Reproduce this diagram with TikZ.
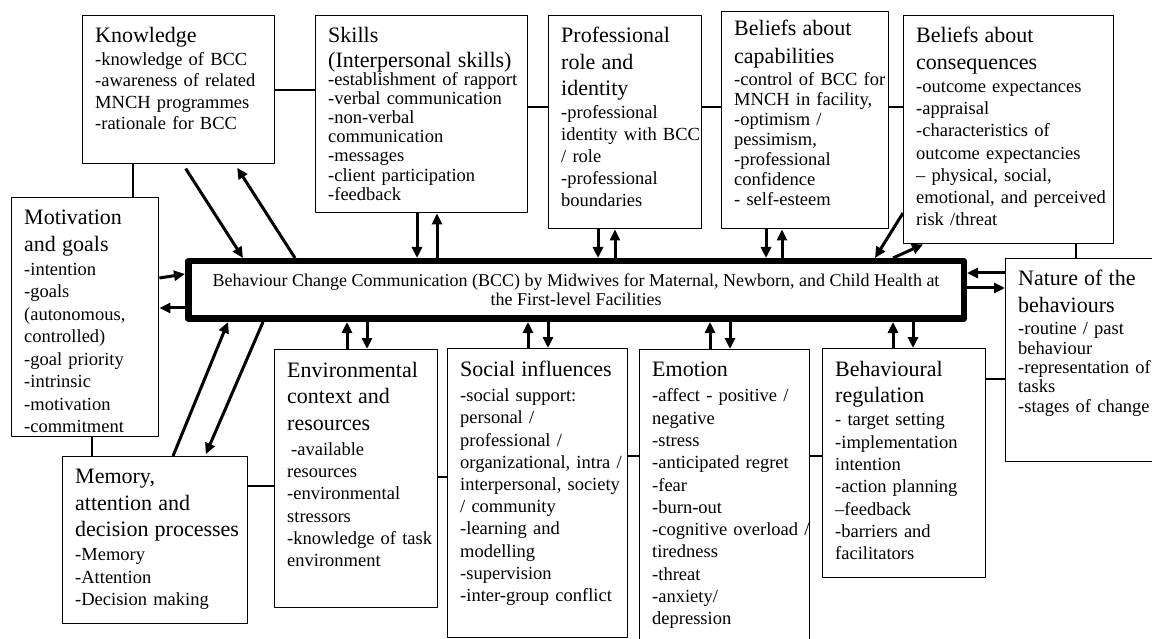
\documentclass[tikz,border=0pt]{standalone}
\usepackage{fontspec}
\setmainfont{Liberation Serif}
\usetikzlibrary{arrows.meta}
\newcommand{\hd}[2][1pt]{{\fontsize{22}{26.5}\selectfont #2\par}\vspace{#1}}
\begin{document}
\begin{tikzpicture}[x=1pt, y=-1pt, line join=round,
	box/.style={draw, line width=1.4pt, inner sep=0pt, anchor=north west},
	txt/.style={anchor=north west, inner sep=0pt, text width=240pt, align=left, font=\fontsize{18.5}{#1}\selectfont},
	txt/.default=22.2,
	arr/.style={line width=3pt, -{Triangle[length=11pt,width=10pt]}},
	lnk/.style={line width=1.3pt}]
	\clip (0,0) rectangle (1152,639);
	% boxes
	\node [box, minimum width=192, minimum height=148] (know) at (82,15) {};
	\node [box, minimum width=212, minimum height=197] (skills) at (315,15) {};
	\node [box, minimum width=153, minimum height=213] (prof) at (548,15) {};
	\node [box, minimum width=167, minimum height=217] (belcap) at (721,11) {};
	\node [box, minimum width=210, minimum height=228] (belcon) at (903,15) {};
	\node [box, minimum width=147, minimum height=239] (motiv) at (11,197) {};
	\node [box, minimum width=185, minimum height=167] (memory) at (62,456) {};
	\node [box, minimum width=163, minimum height=258] (env) at (274,349) {};
	\node [box, minimum width=180, minimum height=289] (social) at (447,348) {};
	\node [box, minimum width=170, minimum height=320] (emotion) at (639,349) {};
	\node [box, minimum width=163, minimum height=229] (behav) at (822,348) {};
	\node [box, minimum width=170, minimum height=203] (nature) at (1005,258) {};
	\node [draw, line width=6.5pt, minimum width=775.5, minimum height=57.5, align=center,
		font=\fontsize{18}{19}\selectfont] (bcc) at (576,290)
		{Behaviour Change Communication (BCC) by Midwives for Maternal, Newborn, and Child Health at\\the First-level Facilities};
	% texts
	\node [txt=21.5] (know-t) at ([shift={(13,12)}]know.north west)
		{\hd[1.5pt]{Knowledge}-knowledge of BCC\\-awareness of related\\MNCH programmes\\-rationale for BCC};
	\node [txt=19.2] (skills-t) at ([shift={(13,12)}]skills.north west)
		{\hd[-1.5pt]{Skills\\[-1.5pt](Interpersonal skills)}-establishment of rapport\\-verbal communication\\-non-verbal\\communication\\-messages\\-client participation\\-feedback};
	\node [txt=22] (prof-t) at ([shift={(13,12)}]prof.north west)
		{\hd{Professional\\role and\\identity}-professional\\identity with BCC\\/ role\\-professional\\boundaries};
	\node [txt=20] (belcap-t) at ([shift={(13,9)}]belcap.north west)
		{\hd[2pt]{Beliefs about\\[1.5pt]capabilities}-control of BCC for\\MNCH in facility,\\-optimism /\\pessimism,\\-professional\\confidence\\- self-esteem};
	\node [txt=22.3] (belcon-t) at ([shift={(13,12)}]belcon.north west)
		{\hd[0.7pt]{Beliefs about\\consequences}-outcome expectances\\-appraisal\\-characteristics of\\outcome expectancies\\-- physical, social,\\emotional, and perceived\\risk /threat};
	\node [txt=22.5] (motiv-t) at ([shift={(13,13)}]motiv.north west)
		{\hd[1.5pt]{Motivation\\and goals}-intention\\-goals\\(autonomous,\\controlled)\\-goal priority\\-intrinsic\\-motivation\\-commitment};
	\node [txt=22.3] (memory-t) at ([shift={(13,13)}]memory.north west)
		{\hd[2pt]{Memory,\\attention and\\decision processes}-Memory\\-Attention\\-Decision making};
	\node [txt] (env-t) at ([shift={(13,13)}]env.north west)
		{\hd[2.8pt]{Environmental\\context and\\resources}\hspace{4pt}-available\\resources\\-environmental\\stressors\\-knowledge of task\\environment};
	\node [txt] (social-t) at ([shift={(13,13)}]social.north west)
		{\hd[2.8pt]{Social influences}-social support:\\personal /\\professional /\\organizational, intra /\\interpersonal, society\\/ community\\-learning and\\modelling\\-supervision\\-inter-group conflict};
	\node [txt=22.3] (emotion-t) at ([shift={(13,13)}]emotion.north west)
		{\hd[2.8pt]{Emotion}-affect - positive /\\negative\\-stress\\-anticipated regret\\-fear\\-burn-out\\-cognitive overload /\\tiredness\\-threat\\-anxiety/\\depression};
	\node [txt=22.3] (behav-t) at ([shift={(13,13)}]behav.north west)
		{\hd[0.7pt]{Behavioural\\regulation}- target setting\\-implementation\\intention\\-action planning\\--feedback\\-barriers and\\facilitators};
	\node [txt=19.3] (nature-t) at ([shift={(13,12)}]nature.north west)
		{\hd[3.5pt]{Nature of the\\behaviours}-routine / past\\behaviour\\-representation of\\tasks\\-stages of change};
	% links
	\draw [lnk] (know.east |- 0,90) -- (skills.west |- 0,90);
	\draw [lnk] (skills.east |- 0,107) -- (prof.west |- 0,107);
	\draw [lnk] (prof.east |- 0,107) -- (belcap.west |- 0,107);
	\draw [lnk] (belcap.east |- 0,107) -- (belcon.west |- 0,107);
	\draw [lnk] (belcon.south -| 1076,0) -- (nature.north -| 1076,0);
	\draw [lnk] (know.south -| 133,0) -- (motiv.north -| 133,0);
	\draw [lnk] (motiv.south -| 92,0) -- (memory.north -| 92,0);
	\draw [lnk] (memory.east |- 0,486) -- (env.west |- 0,486);
	\draw [lnk] (env.east |- 0,477) -- (social.west |- 0,477);
	\draw [lnk] (social.east |- 0,456) -- (emotion.west |- 0,456);
	\draw [lnk] (emotion.east |- 0,456) -- (behav.west |- 0,456);
	\draw [lnk] (behav.east |- 0,379) -- (nature.west |- 0,379);
	% arrows
	\draw [arr, shorten <=5pt] (know.south -| 183,0) -- (bcc.north -| 243,0);
	\draw [arr, shorten >=4pt] (bcc.north -| 295,0) -- (know.south -| 235,0);
	\draw [arr] (skills.south -| 417,0) -- (bcc.north -| 417,0);
	\draw [arr] (bcc.north -| 437,0) -- (skills.south -| 437,0);
	\draw [arr] (prof.south -| 598,0) -- (bcc.north -| 598,0);
	\draw [arr] (bcc.north -| 615,0) -- (prof.south -| 615,0);
	\draw [arr] (belcap.south -| 766,0) -- (bcc.north -| 766,0);
	\draw [arr] (bcc.north -| 782,0) -- (belcap.south -| 782,0);
	\draw [arr] (belcon.west |- 0,213) -- (bcc.north -| 875,0);
	\draw [arr] (bcc.north -| 893,0) -- (belcon.south -| 923,0);
	\draw [arr] (motiv.east |- 0,278) -- (bcc.west |- 0,274);
	\draw [arr] (bcc.west |- 0,308) -- (motiv.east |- 0,308);
	\draw [arr] (memory.north -| 173,0) -- (bcc.south -| 228,0);
	\draw [arr, shorten >=2pt] (bcc.south -| 263,0) -- (memory.north -| 205,0);
	\draw [arr] (env.north -| 347,0) -- (bcc.south -| 347,0);
	\draw [arr] (bcc.south -| 367,0) -- (env.north -| 367,0);
	\draw [arr] (social.north -| 528,0) -- (bcc.south -| 528,0);
	\draw [arr] (bcc.south -| 548,0) -- (social.north -| 548,0);
	\draw [arr] (emotion.north -| 710,0) -- (bcc.south -| 710,0);
	\draw [arr] (bcc.south -| 730,0) -- (emotion.north -| 730,0);
	\draw [arr] (behav.north -| 893,0) -- (bcc.south -| 893,0);
	\draw [arr] (bcc.south -| 913,0) -- (behav.north -| 913,0);
	\draw [arr] (nature.west |- 0,273) -- (bcc.east |- 0,273);
	\draw [arr] (bcc.east |- 0,288) -- (nature.west |- 0,288);
\end{tikzpicture}
\end{document}
